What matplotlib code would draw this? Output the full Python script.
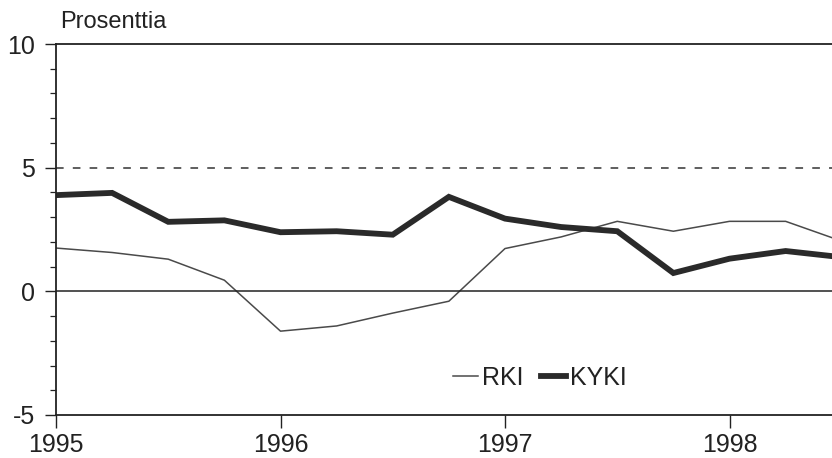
import matplotlib
matplotlib.use("Agg")
import matplotlib.pyplot as plt
import numpy as np

plt.rcParams['font.family'] = ['Liberation Sans Narrow', 'Liberation Sans', 'DejaVu Sans']

# quarterly observations, 1995Q1 .. 1998Q3
quarters = [1995.0, 1995.25, 1995.5, 1995.75,
            1996.0, 1996.25, 1996.5, 1996.75,
            1997.0, 1997.25, 1997.5, 1997.75,
            1998.0, 1998.25, 1998.5]
rki = [1.75, 1.57, 1.30, 0.45,
       -1.61, -1.40, -0.88, -0.40,
       1.73, 2.20, 2.83, 2.43,
       2.83, 2.83, 2.03]
kyki = [3.89, 3.98, 2.81, 2.87,
        2.39, 2.43, 2.29, 3.82,
        2.94, 2.60, 2.43, 0.74,
        1.32, 1.63, 1.38]
year_ticks = [1995, 1996, 1997, 1998]
y_ticks = [-5, 0, 5, 10]

W, H = 832, 458
fig = plt.figure(figsize=(W / 100, H / 100), dpi=100)
ax = fig.add_axes([56 / W, (H - 415) / H, 1 - 56 / W, (415 - 44) / H])

ax.plot(quarters, rki, color='#4a4a4a', lw=1.1, label='RKI')
ax.plot(quarters, kyki, color='#2a2a2a', lw=4.2, label='KYKI', solid_joinstyle='miter')

ax.axhline(0, color='#222222', lw=1.1)
ax.axhline(5, color='#333333', lw=1.1, dashes=(5, 6))

ax.set_xlim(1995, 1995 + 776 / 224.5)
ax.set_ylim(-5, 10)
ax.set_xticks(year_ticks)
ax.set_xticklabels([str(y) for y in year_ticks])
ax.set_yticks(y_ticks)
ax.set_yticklabels([str(y) for y in y_ticks])
ax.set_yticks(np.arange(-5, 11, 1), minor=True)

ax.spines['right'].set_visible(False)
for s in ['left', 'top', 'bottom']:
    ax.spines[s].set_color('#222222')
    ax.spines[s].set_linewidth(1.3)

ax.tick_params(axis='y', which='major', length=8, width=1.0, color='#222222',
               labelsize=18, labelcolor='#222222', pad=7)
ax.tick_params(axis='x', which='major', length=9, width=1.0, color='#222222',
               labelsize=18, labelcolor='#222222', pad=4)
ax.tick_params(axis='y', which='minor', length=4, width=0.9, color='#222222')
ax.tick_params(axis='x', which='minor', length=0)

fig.text(60 / W, 1 - 22 / H, 'Prosenttia', fontsize=17, color='#222222',
         ha='left', va='center')

ax.legend(loc='center', bbox_to_anchor=((540 - 56) / (W - 56), (415 - 378) / (415 - 44)),
          ncol=2, frameon=False, fontsize=18, handlelength=1.0,
          handletextpad=0.15, columnspacing=0.7, labelcolor='#222222')

fig.savefig('out.png', dpi=100)
